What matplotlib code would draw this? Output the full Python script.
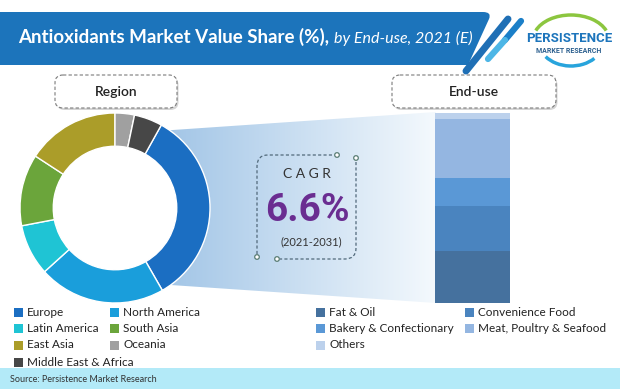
import numpy as np
import matplotlib
matplotlib.use("Agg")
import matplotlib.pyplot as plt
from matplotlib.patches import FancyBboxPatch, Polygon, Rectangle, Circle, Arc, PathPatch
from matplotlib.path import Path
from matplotlib.colors import to_rgb

W, H = 620, 389

# donut - share by region
regions = ["Europe", "North America", "Latin America", "South Asia",
           "East Asia", "Oceania", "Middle East & Africa"]
region_share = [33.6, 21.6, 8.7, 12.2, 15.8, 3.3, 4.8]
region_colors = ["#1b6ec2", "#1a9edb", "#1fc4d4", "#6ba53b",
                 "#ab9d29", "#a0a0a0", "#474747"]

# stacked bar - share by end-use (bottom to top)
end_uses = ["Fat & Oil", "Convenience Food", "Bakery & Confectionary",
            "Meat, Poultry & Seafood", "Others"]
end_use_share = [27.5, 23.5, 14.9, 30.7, 3.4]
end_use_colors = ["#45719e", "#4a84bf", "#5a98d6", "#94b6e1", "#bcd1ec"]

cagr = "6.6%"
cagr_period = "(2021-2031)"

fig = plt.figure(figsize=(W / 100, H / 100), dpi=100)
bg = fig.add_axes([0, 0, 1, 1])
bg.set_xlim(0, W)
bg.set_ylim(H, 0)
bg.axis("off")

# header banner
verts = [(0, 12), (483, 12), (492, 12), (489, 19), (468, 65), (0, 65), (0, 12)]
codes = [Path.MOVETO, Path.LINETO, Path.CURVE3, Path.CURVE3,
         Path.LINETO, Path.LINETO, Path.CLOSEPOLY]
bg.add_patch(PathPatch(Path(verts, codes), facecolor="#1c74bb", edgecolor="none"))
bg.plot([508, 466], [19, 71], color="#1f6fb5", lw=5, solid_capstyle="round")
bg.plot([521, 505], [21, 40], color="#1b7fc8", lw=4.5, solid_capstyle="round")
bg.plot([505, 488], [40, 59], color="#4db6e6", lw=4.5, solid_capstyle="round")

t1 = bg.text(18, 43, "Antioxidants Market Value Share (%),", color="white",
             fontsize=13.5, fontweight="bold", family="Lato", va="baseline")
fig.canvas.draw()
r = fig.canvas.get_renderer()
bb = t1.get_window_extent(r)
x_end = bg.transData.inverted().transform((bb.x1, bb.y0))[0]
bg.text(x_end + 5, 43, "by End-use, 2021 (E)", color="white", fontsize=11.5,
        family="Lato", style="italic", va="baseline")

# logo
bg.add_patch(Arc((571, 40), 76, 50, theta1=195, theta2=345, color="#8cc63f", lw=2.5))
bg.add_patch(Arc((571, 42), 64, 48, theta1=35, theta2=150, color="#28a4dc", lw=2.5))
bg.text(569, 38, "PERSISTENCE", ha="center", va="center", color="#1d75bc",
        fontsize=9.5, fontweight="bold", family="Roboto")
bg.text(569, 51, "MARKET RESEARCH", ha="center", va="center", color="#2b5f8e",
        fontsize=5, fontweight="bold", family="Roboto")

# section labels
for (x0, x1, label) in [(55, 177, "Region"), (392, 556, "End-use")]:
    bg.add_patch(FancyBboxPatch((x0 + 1.5, 77), x1 - x0, 33,
                                boxstyle="round,pad=0,rounding_size=8",
                                facecolor="#c4c4c4", edgecolor="none", alpha=0.7))
    bg.add_patch(FancyBboxPatch((x0, 75), x1 - x0, 33,
                                boxstyle="round,pad=0,rounding_size=8",
                                facecolor="white", edgecolor="#7a7a7a",
                                lw=0.8, ls=(0, (3, 2))))
    bg.text((x0 + x1) / 2, 91.5, label, ha="center", va="center", fontsize=10,
            family="Lato", fontweight="semibold", color="#222222")

# gradient connector from donut to bar
th = np.radians(np.linspace(61, -60, 40))
pts = list(zip(115 + 88 * np.cos(th), 208 - 88 * np.sin(th))) + [(436, 303), (436, 112)]
poly = Polygon(pts, closed=True, facecolor="none", edgecolor="none")
bg.add_patch(poly)
c0, c1 = np.array(to_rgb("#a0c4e6")), np.array(to_rgb("#f4f9fd"))
xs = np.linspace(115, 436, 320)
f = np.clip((xs - 160) / (436 - 160), 0, 1)[None, :, None]
img = np.repeat(c0 + (c1 - c0) * f, 2, axis=0)
im = bg.imshow(img, extent=(115, 436, 303, 112), aspect="auto", zorder=1)
im.set_clip_path(poly)

# CAGR box
dash_col = "#51697a"
p1 = Path([(257, 254), (257, 166), (257, 155), (268, 155), (334, 155)],
          [Path.MOVETO, Path.LINETO, Path.CURVE3, Path.CURVE3, Path.LINETO])
p2 = Path([(356, 162), (356, 248), (356, 259), (345, 259), (280, 259)],
          [Path.MOVETO, Path.LINETO, Path.CURVE3, Path.CURVE3, Path.LINETO])
for p in (p1, p2):
    bg.add_patch(PathPatch(p, facecolor="none", edgecolor=dash_col, lw=0.9,
                           ls=(0, (2.5, 1.8)), zorder=2))
for (cx, cy) in [(337, 155), (356, 158), (257, 257), (277, 259)]:
    bg.add_patch(Circle((cx, cy), 2.3, facecolor="white", edgecolor="#5a7d74",
                        lw=0.9, zorder=3))
bg.text(307, 174, "C A G R", ha="center", va="center", fontsize=10,
        family="Lato", color="#333333", zorder=3)
bg.text(307, 210, cagr, ha="center", va="center", fontsize=28,
        family="Roboto", fontweight="bold", color="#6a2d91", zorder=3)
bg.text(311, 242, cagr_period, ha="center", va="center", fontsize=8,
        family="Lato", color="#333333", zorder=3)

# legends
rows = [312, 328, 345, 362]
for i, (name, col) in enumerate(zip(regions, region_colors)):
    sx = [14, 110][i % 2]
    y = rows[i // 2]
    bg.add_patch(Rectangle((sx, y - 4), 9, 8.5, facecolor=col, edgecolor="none"))
    bg.text(sx + 13, y, name, va="center", fontsize=8.5, family="Lato", color="#222222")
for i, (name, col) in enumerate(zip(end_uses, end_use_colors)):
    sx = [316, 465][i % 2]
    y = rows[i // 2]
    bg.add_patch(Rectangle((sx, y - 4), 9, 8.5, facecolor=col, edgecolor="none"))
    bg.text(sx + 13, y, name, va="center", fontsize=8.5, family="Lato", color="#222222")

# source strip
bg.add_patch(Rectangle((0, 368), W, 21, facecolor="#b3eaf8", edgecolor="none"))
bg.text(10, 379, "Source: Persistence Market Research", va="center", fontsize=6.5,
        family="Lato", color="#333333")

bg.set_xlim(0, W)
bg.set_ylim(H, 0)

# donut chart
ax_pie = fig.add_axes([20 / W, (H - 303) / H, 190 / W, 190 / H])
start = 90 - (region_share[5] + region_share[6]) * 3.6
ax_pie.pie(region_share, colors=region_colors, startangle=start, counterclock=False,
           radius=1, wedgeprops=dict(width=0.35, edgecolor="white", linewidth=1))
ax_pie.set_xlim(-1, 1)
ax_pie.set_ylim(-1, 1)
ax_pie.axis("off")

# stacked bar
ax_bar = fig.add_axes([435 / W, (H - 303) / H, 75 / W, 190 / H])
bottom = 0
for v, c in zip(end_use_share, end_use_colors):
    ax_bar.bar(0, v, bottom=bottom, width=1, color=c, edgecolor="none")
    bottom += v
ax_bar.set_xlim(-0.5, 0.5)
ax_bar.set_ylim(0, 100)
ax_bar.axis("off")

fig.savefig("out.png", dpi=100)
